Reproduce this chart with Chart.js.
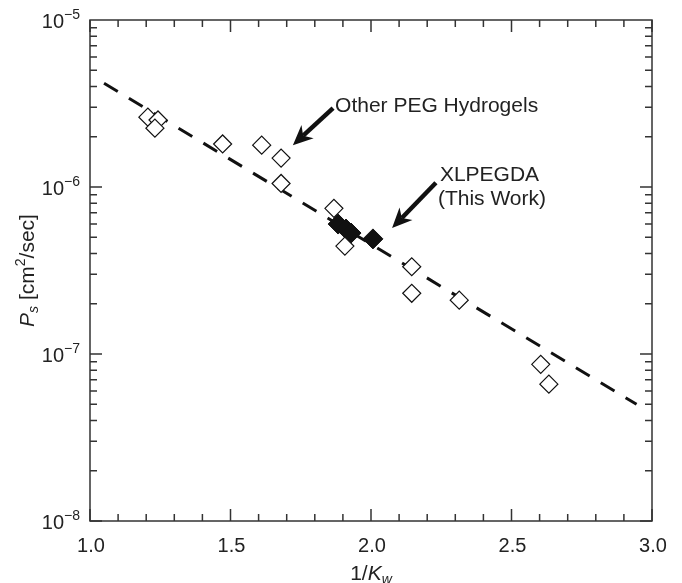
<!DOCTYPE html>
<html>
<head>
<meta charset="utf-8">
<script src="https://cdn.jsdelivr.net/npm/chart.js@4.4.0/dist/chart.umd.min.js"></script>
<style>
  html, body { margin: 0; padding: 0; background: #fff; }
  #c { display: block; }
</style>
</head>
<body>
<canvas id="c" width="682" height="583"></canvas>
<script>
// open diamonds: other PEG hydrogels
const otherX = [1.206, 1.242, 1.231, 1.472, 1.611, 1.680, 1.680, 1.868, 1.907, 2.145, 2.145, 2.314, 2.604, 2.633];
const otherY = [2.62e-6, 2.52e-6, 2.25e-6, 1.81e-6, 1.78e-6, 1.49e-6, 1.05e-6, 7.45e-7, 4.43e-7, 3.33e-7, 2.31e-7, 2.10e-7, 8.67e-8, 6.6e-8];
// filled diamonds: XLPEGDA (this work)
const xlX = [1.883, 1.911, 1.929, 2.007];
const xlY = [6.0e-7, 5.6e-7, 5.3e-7, 4.89e-7];
// dashed fit line
const fitX = [1.05, 2.945];
const fitY = [4.18e-6, 5.0e-8];
// tick labels
const xTicks = [1.0, 1.5, 2.0, 2.5, 3.0];
const xTickLabels = ['1.0', '1.5', '2.0', '2.5', '3.0'];
const yTickExps = [-5, -6, -7, -8];

const FONT = '"Liberation Sans", Arial, Helvetica, sans-serif';
const INK = '#222';

function pts(xs, ys) {
    return xs.map((x, i) => ({ x: x, y: ys[i] }));
}

// draw a run of text pieces (superscripts, subscripts, italics)
function richText(ctx, parts, x, y, align) {
    let w = 0;
    parts.forEach(p => {
        ctx.font = (p.italic ? 'italic ' : '') + p.size + 'px ' + FONT;
        p.w = ctx.measureText(p.t).width;
        w += p.w;
    });
    let cx = align === 'right' ? x - w : align === 'center' ? x - w / 2 : x;
    parts.forEach(p => {
        ctx.font = (p.italic ? 'italic ' : '') + p.size + 'px ' + FONT;
        ctx.fillText(p.t, cx, y + (p.dy || 0));
        cx += p.w;
    });
}

function arrow(ctx, x1, y1, x2, y2) {
    const a = Math.atan2(y2 - y1, x2 - x1);
    const head = 20, half = 9, notch = 6;
    ctx.save();
    ctx.translate(x2, y2);
    ctx.rotate(a);
    const len = Math.hypot(x2 - x1, y2 - y1);
    ctx.lineWidth = 4.5;
    ctx.lineCap = 'butt';
    ctx.beginPath();
    ctx.moveTo(-len, 0);
    ctx.lineTo(-head + notch, 0);
    ctx.stroke();
    ctx.beginPath();
    ctx.moveTo(0, 0);
    ctx.lineTo(-head, -half);
    ctx.lineTo(-head + notch, 0);
    ctx.lineTo(-head, half);
    ctx.closePath();
    ctx.fill();
    ctx.restore();
}

const decor = {
    id: 'decor',
    afterDraw(chart) {
        const ctx = chart.ctx;
        const a = chart.chartArea;
        const xs = chart.scales.x, ys = chart.scales.y;
        ctx.save();
        ctx.strokeStyle = '#333';
        ctx.fillStyle = INK;
        ctx.lineWidth = 1.5;
        ctx.strokeRect(a.left, a.top, a.right - a.left, a.bottom - a.top);

        // x ticks, every 0.1, major at 0.5
        ctx.beginPath();
        for (let i = 10; i <= 30; i++) {
            const px = xs.getPixelForValue(i / 10);
            const L = i % 5 === 0 ? 12 : 7;
            ctx.moveTo(px, a.bottom); ctx.lineTo(px, a.bottom - L);
            ctx.moveTo(px, a.top); ctx.lineTo(px, a.top + L);
        }
        // y log ticks
        for (let e = -8; e <= -6; e++) {
            for (let m = 1; m <= 9; m++) {
                const py = ys.getPixelForValue(m * Math.pow(10, e));
                const L = m === 1 ? 12 : 7;
                ctx.moveTo(a.left, py); ctx.lineTo(a.left + L, py);
                ctx.moveTo(a.right, py); ctx.lineTo(a.right - L, py);
            }
        }
        ctx.stroke();

        // x tick labels
        ctx.textBaseline = 'alphabetic';
        ctx.textAlign = 'left';
        xTicks.forEach((v, i) => {
            richText(ctx, [{ t: xTickLabels[i], size: 20 }], xs.getPixelForValue(v) + 1, a.bottom + 31, 'center');
        });
        // y tick labels
        yTickExps.forEach(e => {
            const py = ys.getPixelForValue(Math.pow(10, e));
            richText(ctx, [{ t: '10', size: 20 }, { t: '\u2212' + Math.abs(e), size: 14, dy: -9 }], a.left - 10, py + 8, 'right');
        });

        // axis titles
        richText(ctx, [{ t: '1/', size: 21 }, { t: 'K', size: 21, italic: true }, { t: 'w', size: 14, italic: true, dy: 4 }],
            (a.left + a.right) / 2, 580, 'center');
        ctx.save();
        ctx.translate(34, (a.top + a.bottom) / 2);
        ctx.rotate(-Math.PI / 2);
        richText(ctx, [{ t: 'P', size: 21, italic: true }, { t: 's', size: 14, italic: true, dy: 4 },
            { t: ' [cm', size: 21 }, { t: '2', size: 14, dy: -9 }, { t: '/sec]', size: 21 }], 0, 0, 'center');
        ctx.restore();

        // annotations
        ctx.fillStyle = '#111';
        ctx.strokeStyle = '#111';
        const p1 = [xs.getPixelForValue(1.865), ys.getPixelForValue(2.97e-6)];
        const t1 = [xs.getPixelForValue(1.722), ys.getPixelForValue(1.78e-6)];
        arrow(ctx, p1[0], p1[1], t1[0], t1[1]);
        const p2 = [xs.getPixelForValue(2.231), ys.getPixelForValue(1.06e-6)];
        const t2 = [xs.getPixelForValue(2.075), ys.getPixelForValue(5.68e-7)];
        arrow(ctx, p2[0], p2[1], t2[0], t2[1]);
        ctx.fillStyle = INK;
        richText(ctx, [{ t: 'Other PEG Hydrogels', size: 21 }], p1[0] + 2, p1[1] + 4, 'left');
        richText(ctx, [{ t: 'XLPEGDA', size: 21 }], p2[0] + 4, p2[1] - 2, 'left');
        richText(ctx, [{ t: '(This Work)', size: 21 }], p2[0] + 2, p2[1] + 22, 'left');
        ctx.restore();
    }
};

new Chart(document.getElementById('c').getContext('2d'), {
    type: 'scatter',
    data: {
        datasets: [{
            label: 'Other PEG Hydrogels',
            data: pts(otherX, otherY),
            pointStyle: 'rectRot',
            pointRadius: 9,
            pointBorderWidth: 1.2,
            backgroundColor: '#fff',
            borderColor: '#111',
            order: 0
        }, {
            label: 'XLPEGDA',
            data: pts(xlX, xlY),
            pointStyle: 'rectRot',
            pointRadius: 10,
            pointBorderWidth: 1,
            backgroundColor: '#111',
            borderColor: '#111',
            order: 1
        }, {
            label: 'fit',
            data: pts(fitX, fitY),
            showLine: true,
            pointRadius: 0,
            borderColor: '#111',
            borderWidth: 3,
            borderDash: [16, 13],
            order: 2
        }]
    },
    options: {
        responsive: false,
        animation: false,
        layout: { padding: { left: 90, top: 20, right: 30, bottom: 62 } },
        scales: {
            x: { type: 'linear', min: 1, max: 3, display: false },
            y: { type: 'logarithmic', min: 1e-8, max: 1e-5, display: false }
        },
        plugins: {
            legend: { display: false },
            tooltip: { enabled: false }
        }
    },
    plugins: [decor]
});
</script>
</body>
</html>
